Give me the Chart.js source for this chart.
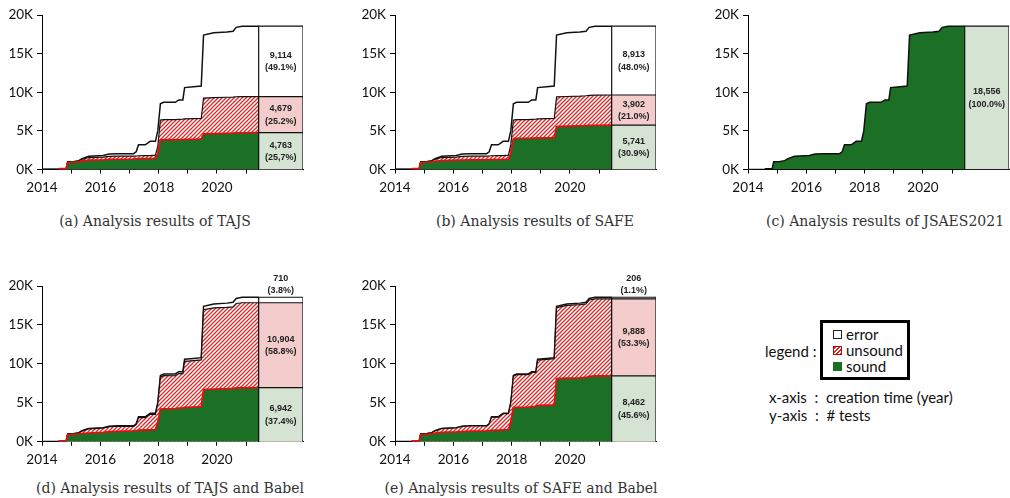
<!DOCTYPE html>
<html>
<head>
<meta charset="utf-8">
<script src="https://cdn.jsdelivr.net/npm/chart.js@4/dist/chart.umd.min.js"></script>
<style>
  html, body { margin: 0; padding: 0; background: #fff; overflow: hidden; }
  #page { position: relative; width: 1010px; height: 498px; }
  canvas { position: absolute; }
  .cap { position: absolute; font-family: "DejaVu Serif", serif; font-size: 14px; color: #333; white-space: nowrap; transform: translate(-50%, -50%); }
  .lg { position: absolute; font-family: Lato, "Open Sans", sans-serif; font-size: 15px; color: #111; white-space: nowrap; line-height: 18px; }
  .sw { position: absolute; width: 9px; height: 9px; box-sizing: border-box; }
</style>
</head>
<body>
<div id="page">
  <canvas id="ca" width="304" height="200" style="left:0;top:0"></canvas>
  <canvas id="cb" width="304" height="200" style="left:353px;top:0"></canvas>
  <canvas id="cc" width="304" height="200" style="left:706px;top:0"></canvas>
  <canvas id="cd" width="304" height="215" style="left:0;top:256px"></canvas>
  <canvas id="ce" width="304" height="215" style="left:353px;top:256px"></canvas>

  <div class="cap" style="left:155px;top:221px">(a) Analysis results of TAJS</div>
  <div class="cap" style="left:535px;top:221px">(b) Analysis results of SAFE</div>
  <div class="cap" style="left:885px;top:221px">(c) Analysis results of JSAES2021</div>
  <div class="cap" style="left:170px;top:488px">(d) Analysis results of TAJS and Babel</div>
  <div class="cap" style="left:521px;top:488px">(e) Analysis results of SAFE and Babel</div>

  <!-- legend panel -->
  <div class="lg" style="left:765px;top:342px">legend :</div>
  <div style="position:absolute;left:820px;top:320px;width:84px;height:54px;border:3px solid #000"></div>
  <div class="sw" style="left:833px;top:330px;border:1.5px solid #222;background:#fff"></div>
  <div class="sw" style="left:833px;top:346px;background:repeating-linear-gradient(135deg,#d42a2a 0 1.5px,#fff 1.5px 3px);border:1px solid #c00"></div>
  <div class="sw" style="left:833px;top:362px;background:#1b7026"></div>
  <div class="lg" style="left:846px;top:325px">error</div>
  <div class="lg" style="left:846px;top:341px">unsound</div>
  <div class="lg" style="left:846px;top:357px">sound</div>
  <div class="lg" style="left:769px;top:388px">x-axis&nbsp; :&nbsp; creation time (year)</div>
  <div class="lg" style="left:769px;top:406px">y-axis&nbsp; :&nbsp; # tests</div>
</div>

<script>
// creation time (decimal year) of each sample point
const years = [2014.0, 2014.57, 2014.6, 2014.83, 2014.88, 2015.1, 2015.26, 2015.37, 2015.6, 2016.1,
  2016.3, 2016.6, 2017.14, 2017.23, 2017.31, 2017.54, 2017.71, 2017.89, 2017.97, 2018.06,
  2018.17, 2018.57, 2018.69, 2018.83, 2018.89, 2019.2, 2019.46, 2019.54, 2019.89, 2020.34,
  2020.55, 2020.66, 2020.86, 2021.43];

// cumulative number of tests
const total = [0, 0, 100, 100, 1000, 1050, 1150, 1400, 1700, 1800,
  2000, 2050, 2050, 2300, 3200, 3200, 3650, 3650, 5000, 8500,
  8700, 8700, 9000, 9000, 10600, 10700, 10800, 17400, 17700, 17800,
  17900, 18400, 18556, 18556];

// TAJS
const tajsSound = [0, 0, 100, 100, 900, 950, 1000, 1100, 1200, 1250,
  1300, 1320, 1350, 1380, 1400, 1400, 1420, 1450, 2000, 3800,
  3850, 3850, 3870, 3880, 3900, 3900, 3950, 4600, 4650, 4680,
  4700, 4730, 4750, 4763];
const tajsUnsoundTop = [0, 0, 100, 100, 950, 1000, 1100, 1300, 1550, 1600,
  1700, 1720, 1730, 1750, 1780, 1790, 1800, 1850, 3000, 6400,
  6450, 6450, 6500, 6520, 6550, 6580, 6600, 9250, 9300, 9350,
  9380, 9420, 9440, 9442];
const tajsCounts = [9114, 4679, 4763];           // error, unsound, sound
const tajsPct = ['49.1%', '25.2%', '25,7%'];

// SAFE
const safeSound = [0, 0, 100, 100, 900, 950, 1000, 1050, 1150, 1200,
  1220, 1250, 1260, 1270, 1280, 1290, 1300, 1320, 2000, 4000,
  4020, 4020, 4050, 4060, 4080, 4090, 4100, 5550, 5600, 5650,
  5680, 5700, 5720, 5741];
const safeUnsoundTop = [0, 0, 100, 100, 950, 1000, 1100, 1300, 1550, 1600,
  1700, 1720, 1730, 1750, 1780, 1790, 1800, 1850, 3200, 6400,
  6450, 6450, 6500, 6520, 6550, 6580, 6600, 9400, 9450, 9500,
  9550, 9600, 9630, 9643];
const safeCounts = [8913, 3902, 5741];
const safePct = ['48.0%', '21.0%', '30.9%'];

// JSAES2021
const jsaesCounts = [18556];
const jsaesPct = ['100.0%'];

// TAJS and Babel
const tajsBabelSound = [0, 0, 100, 100, 900, 950, 1000, 1050, 1100, 1200,
  1280, 1320, 1400, 1430, 1480, 1500, 1520, 1550, 2500, 4200,
  4220, 4250, 4300, 4350, 4400, 4450, 4500, 6700, 6750, 6800,
  6850, 6900, 6930, 6942];
const tajsBabelUnsoundTop = [0, 0, 100, 100, 980, 1020, 1120, 1360, 1650, 1740,
  1930, 1970, 1960, 2200, 3100, 3090, 3530, 3520, 4850, 8300,
  8480, 8470, 8760, 8750, 10330, 10420, 10500, 16950, 17200, 17250,
  17320, 17750, 17846, 17846];
const tajsBabelCounts = [710, 10904, 6942];
const tajsBabelPct = ['3.8%', '58.8%', '37.4%'];

// SAFE and Babel
const safeBabelSound = [0, 0, 100, 100, 900, 950, 1000, 1100, 1200, 1250,
  1300, 1350, 1400, 1430, 1460, 1480, 1500, 1580, 2500, 4400,
  4420, 4450, 4500, 4550, 4650, 4680, 4700, 8100, 8150, 8200,
  8250, 8400, 8440, 8462];
const safeBabelUnsoundTop = [0, 0, 100, 100, 990, 1040, 1140, 1385, 1680, 1780,
  1975, 2020, 2020, 2265, 3160, 3155, 3600, 3595, 4940, 8420,
  8610, 8605, 8900, 8895, 10480, 10570, 10665, 17230, 17520, 17610,
  17700, 18210, 18350, 18350];
const safeBabelCounts = [206, 9888, 8462];
const safeBabelPct = ['1.1%', '53.3%', '45.6%'];

const yearTicks = [2014, 2015, 2016, 2017, 2018, 2019, 2020, 2021];
const BOX_L = 2021.43, BOX_R = 2022.95;   // summary column on the year axis

const GREEN = '#1b7026', RED = '#e01010';
const SOUND_LIGHT = '#d5e3d3', UNSOUND_LIGHT = '#f4cccc';

Chart.defaults.font.family = 'Lato, "Open Sans", sans-serif';

function makeHatch() {
  const c = document.createElement('canvas');
  c.width = c.height = 4;
  const g = c.getContext('2d');
  g.fillStyle = '#fff';
  g.fillRect(0, 0, 4, 4);
  g.strokeStyle = '#d42a2a';
  g.lineWidth = 1.3;
  g.beginPath();
  g.moveTo(0, 4); g.lineTo(4, 0);
  g.moveTo(-1, 1); g.lineTo(1, -1);
  g.moveTo(3, 5); g.lineTo(5, 3);
  g.stroke();
  return g.createPattern(c, 'repeat');
}
const HATCH = makeHatch();

const pts = ys => years.map((x, i) => ({ x, y: ys[i] }));
const boxPts = top => [{ x: BOX_L, y: 0 }, { x: BOX_L, y: top }, { x: BOX_R, y: top }, { x: BOX_R, y: 0 }];

function area(data, fill, border, bw, extra) {
  return Object.assign({ data, backgroundColor: fill, borderColor: border, borderWidth: bw,
    fill: 'origin', pointRadius: 0, tension: 0 }, extra || {});
}

// numbers written into the summary column
const boxLabels = {
  id: 'boxLabels',
  afterDatasetsDraw(chart, args, opts) {
    const { ctx, scales: { x, y } } = chart;
    const cx = x.getPixelForValue((BOX_L + BOX_R) / 2);
    ctx.save();
    ctx.font = 'bold 9px "Liberation Sans", Arial, sans-serif';
    ctx.fillStyle = '#222';
    ctx.textAlign = 'center';
    ctx.textBaseline = 'middle';
    opts.items.forEach(it => {
      let cy;
      if (it.above) cy = y.getPixelForValue(it.hi) - 19;
      else cy = (y.getPixelForValue(it.lo) + y.getPixelForValue(it.hi)) / 2 - 6;
      ctx.fillText(it.n.toLocaleString('en-US'), cx, cy);
      ctx.fillText('(' + it.pct + ')', cx, cy + 12.5);
    });
    ctx.restore();
  }
};

function threeClass(sound, unsTop, counts, pct, errAbove) {
  const s = counts[2], u = counts[1] + counts[2], t = counts[0] + counts[1] + counts[2];
  return {
    datasets: [
      area(boxPts(s), SOUND_LIGHT, '#111', 1.2),
      area(boxPts(u), UNSOUND_LIGHT, '#111', 1.2),
      area(boxPts(t), '#fff', '#111', 1.2),
      area(pts(sound), GREEN, RED, 1.8, {
        segment: { borderColor: c => (c.p0.parsed.y === 0 && c.p1.parsed.y === 0 ? '#000' : RED) }
      }),
      area(pts(unsTop), HATCH, '#111', 1.2),
      area(pts(total), '#fff', '#111', 1.5)
    ],
    labels: [
      { lo: u, hi: t, n: counts[0], pct: pct[0], above: errAbove },
      { lo: s, hi: u, n: counts[1], pct: pct[1] },
      { lo: 0, hi: s, n: counts[2], pct: pct[2] }
    ]
  };
}

function makeChart(id, cfg, padTop, bottom) {
  const cv = document.getElementById(id);
  const H = cv.height;
  new Chart(cv, {
    type: 'line',
    data: { datasets: cfg.datasets },
    options: {
      responsive: false,
      animation: false,
      events: [],
      layout: { padding: { top: padTop, right: 1, left: 0, bottom: 0 } },
      plugins: {
        legend: { display: false },
        tooltip: { enabled: false },
        boxLabels: { items: cfg.labels }
      },
      scales: {
        x: {
          type: 'linear', min: 2014, max: BOX_R,
          afterBuildTicks: sc => { sc.ticks = yearTicks.map(v => ({ value: v })); },
          afterFit: sc => { sc.height = H - bottom; },
          ticks: { autoSkip: false, maxRotation: 0, padding: 6, color: '#111', font: { size: 13.5 },
            callback: v => (v % 2 === 0 ? String(v) : '') },
          grid: { display: true, drawOnChartArea: false, drawTicks: true, tickLength: 4, color: '#000' },
          border: { display: true, color: '#000', width: 1 }
        },
        y: {
          min: 0, max: 20000,
          afterFit: sc => { sc.width = 42; },
          ticks: { stepSize: 5000, padding: 4, color: '#111', font: { size: 13.5 },
            callback: v => v / 1000 + 'K' },
          grid: { display: true, drawOnChartArea: false, drawTicks: true, tickLength: 5, color: '#000' },
          border: { display: true, color: '#000', width: 1 }
        }
      }
    },
    plugins: [boxLabels]
  });
}

makeChart('ca', threeClass(tajsSound, tajsUnsoundTop, tajsCounts, tajsPct, false), 15, 169.5);
makeChart('cb', threeClass(safeSound, safeUnsoundTop, safeCounts, safePct, false), 15, 169.5);
makeChart('cc', {
  datasets: [
    area(boxPts(jsaesCounts[0]), SOUND_LIGHT, '#111', 1.2),
    area(pts(total), GREEN, '#111', 1.5)
  ],
  labels: [{ lo: 0, hi: jsaesCounts[0], n: jsaesCounts[0], pct: jsaesPct[0] }]
}, 15, 169.5);
makeChart('cd', threeClass(tajsBabelSound, tajsBabelUnsoundTop, tajsBabelCounts, tajsBabelPct, true), 30, 185.7);
makeChart('ce', threeClass(safeBabelSound, safeBabelUnsoundTop, safeBabelCounts, safeBabelPct, true), 30, 185.7);
</script>
</body>
</html>
